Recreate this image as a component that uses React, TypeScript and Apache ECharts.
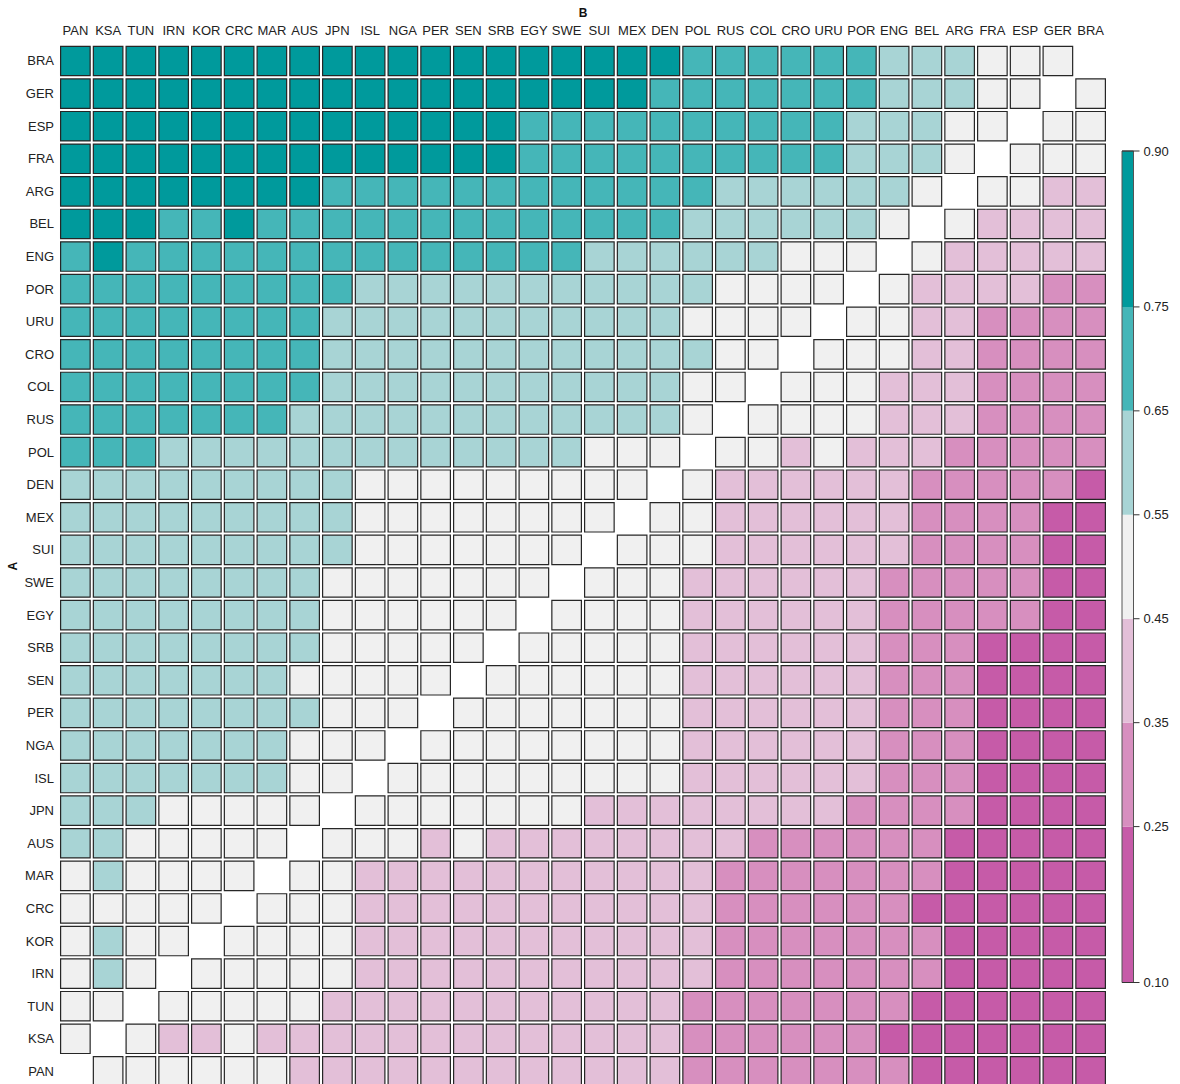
import React, { useEffect, useRef } from "react";
import * as echarts from "echarts";

// Columns (team B), left to right
const teamsB = ["PAN","KSA","TUN","IRN","KOR","CRC","MAR","AUS","JPN","ISL","NGA","PER","SEN","SRB","EGY","SWE","SUI","MEX","DEN","POL","RUS","COL","CRO","URU","POR","ENG","BEL","ARG","FRA","ESP","GER","BRA"];
// Rows (team A), top to bottom
const teamsA = ["BRA","GER","ESP","FRA","ARG","BEL","ENG","POR","URU","CRO","COL","RUS","POL","DEN","MEX","SUI","SWE","EGY","SRB","SEN","PER","NGA","ISL","JPN","AUS","MAR","CRC","KOR","IRN","TUN","KSA","PAN"];

// Estimated probability values per row (columns in teamsB order), null = same team
const rowBRA = [0.82,0.82,0.82,0.82,0.82,0.82,0.82,0.82,0.82,0.82,0.82,0.82,0.82,0.82,0.82,0.82,0.82,0.82,0.82, 0.70,0.70,0.70,0.70,0.70,0.70, 0.60,0.60,0.60, 0.50,0.50,0.50, null];
const rowGER = [0.82,0.82,0.82,0.82,0.82,0.82,0.82,0.82,0.82,0.82,0.82,0.82,0.82,0.82,0.82,0.82,0.82,0.82, 0.70,0.70,0.70,0.70,0.70,0.70,0.70, 0.60,0.60,0.60, 0.50,0.50, null, 0.50];
const rowESP = [0.82,0.82,0.82,0.82,0.82,0.82,0.82,0.82,0.82,0.82,0.82,0.82,0.82,0.82, 0.70,0.70,0.70,0.70,0.70,0.70,0.70,0.70,0.70,0.70, 0.60,0.60,0.60, 0.50,0.50, null, 0.50,0.50];
const rowFRA = [0.82,0.82,0.82,0.82,0.82,0.82,0.82,0.82,0.82,0.82,0.82,0.82,0.82,0.82, 0.70,0.70,0.70,0.70,0.70,0.70,0.70,0.70,0.70,0.70, 0.60,0.60,0.60, 0.50, null, 0.50,0.50,0.50];
const rowARG = [0.82,0.82,0.82,0.82,0.82,0.82,0.82,0.82, 0.70,0.70,0.70,0.70,0.70,0.70,0.70,0.70,0.70,0.70,0.70,0.70, 0.60,0.60,0.60,0.60,0.60,0.60, 0.50, null, 0.50,0.50, 0.40,0.40];
const rowBEL = [0.82,0.82,0.82,0.70,0.70,0.82, 0.70,0.70,0.70,0.70,0.70,0.70,0.70,0.70,0.70,0.70,0.70,0.70,0.70, 0.60,0.60,0.60,0.60,0.60,0.60, 0.50, null, 0.50, 0.40,0.40,0.40,0.40];
const rowENG = [0.70,0.82, 0.70,0.70,0.70,0.70,0.70,0.70,0.70,0.70,0.70,0.70,0.70,0.70,0.70,0.70, 0.60,0.60,0.60,0.60,0.60,0.60, 0.50,0.50,0.50, null, 0.50, 0.40,0.40,0.40,0.40,0.40];
const rowPOR = [0.70,0.70,0.70,0.70,0.70,0.70,0.70,0.70,0.70, 0.60,0.60,0.60,0.60,0.60,0.60,0.60,0.60,0.60,0.60,0.60, 0.50,0.50,0.50,0.50, null, 0.50, 0.40,0.40,0.40,0.40, 0.30,0.30];
const rowURU = [0.70,0.70,0.70,0.70,0.70,0.70,0.70,0.70, 0.60,0.60,0.60,0.60,0.60,0.60,0.60,0.60,0.60,0.60,0.60, 0.50,0.50,0.50,0.50, null, 0.50,0.50, 0.40,0.40, 0.30,0.30,0.30,0.30];
const rowCRO = [0.70,0.70,0.70,0.70,0.70,0.70,0.70,0.70, 0.60,0.60,0.60,0.60,0.60,0.60,0.60,0.60,0.60,0.60,0.60,0.60, 0.50,0.50, null, 0.50,0.50,0.50, 0.40,0.40, 0.30,0.30,0.30,0.30];
const rowCOL = [0.70,0.70,0.70,0.70,0.70,0.70,0.70,0.70, 0.60,0.60,0.60,0.60,0.60,0.60,0.60,0.60,0.60,0.60,0.60, 0.50,0.50, null, 0.50,0.50,0.50, 0.40,0.40,0.40, 0.30,0.30,0.30,0.30];
const rowRUS = [0.70,0.70,0.70,0.70,0.70,0.70,0.70, 0.60,0.60,0.60,0.60,0.60,0.60,0.60,0.60,0.60,0.60,0.60,0.60, 0.50, null, 0.50,0.50,0.50,0.50, 0.40,0.40,0.40, 0.30,0.30,0.30,0.30];
const rowPOL = [0.70,0.70,0.70, 0.60,0.60,0.60,0.60,0.60,0.60,0.60,0.60,0.60,0.60,0.60,0.60,0.60, 0.50,0.50,0.50, null, 0.50,0.50, 0.40, 0.50, 0.40,0.40,0.40, 0.30,0.30,0.30,0.30,0.30];
const rowDEN = [0.60,0.60,0.60,0.60,0.60,0.60,0.60,0.60,0.60, 0.50,0.50,0.50,0.50,0.50,0.50,0.50,0.50,0.50, null, 0.50, 0.40,0.40,0.40,0.40,0.40,0.40, 0.30,0.30,0.30,0.30,0.30, 0.18];
const rowMEX = [0.60,0.60,0.60,0.60,0.60,0.60,0.60,0.60,0.60, 0.50,0.50,0.50,0.50,0.50,0.50,0.50,0.50, null, 0.50,0.50, 0.40,0.40,0.40,0.40,0.40,0.40, 0.30,0.30,0.30,0.30, 0.18,0.18];
const rowSUI = [0.60,0.60,0.60,0.60,0.60,0.60,0.60,0.60,0.60, 0.50,0.50,0.50,0.50,0.50,0.50,0.50, null, 0.50,0.50,0.50, 0.40,0.40,0.40,0.40,0.40,0.40, 0.30,0.30,0.30,0.30, 0.18,0.18];
const rowSWE = [0.60,0.60,0.60,0.60,0.60,0.60,0.60,0.60, 0.50,0.50,0.50,0.50,0.50,0.50,0.50, null, 0.50,0.50,0.50, 0.40,0.40,0.40,0.40,0.40,0.40, 0.30,0.30,0.30,0.30,0.30, 0.18,0.18];
const rowEGY = [0.60,0.60,0.60,0.60,0.60,0.60,0.60,0.60, 0.50,0.50,0.50,0.50,0.50,0.50, null, 0.50,0.50,0.50,0.50, 0.40,0.40,0.40,0.40,0.40,0.40, 0.30,0.30,0.30,0.30,0.30, 0.18,0.18];
const rowSRB = [0.60,0.60,0.60,0.60,0.60,0.60,0.60,0.60, 0.50,0.50,0.50,0.50,0.50, null, 0.50,0.50,0.50,0.50,0.50, 0.40,0.40,0.40,0.40,0.40,0.40, 0.30,0.30,0.30, 0.18,0.18,0.18,0.18];
const rowSEN = [0.60,0.60,0.60,0.60,0.60,0.60,0.60, 0.50,0.50,0.50,0.50,0.50, null, 0.50,0.50,0.50,0.50,0.50,0.50, 0.40,0.40,0.40,0.40,0.40,0.40, 0.30,0.30,0.30, 0.18,0.18,0.18,0.18];
const rowPER = [0.60,0.60,0.60,0.60,0.60,0.60,0.60,0.60, 0.50,0.50,0.50, null, 0.50,0.50,0.50,0.50,0.50,0.50,0.50, 0.40,0.40,0.40,0.40,0.40,0.40, 0.30,0.30,0.30, 0.18,0.18,0.18,0.18];
const rowNGA = [0.60,0.60,0.60,0.60,0.60,0.60,0.60, 0.50,0.50,0.50, null, 0.50,0.50,0.50,0.50,0.50,0.50,0.50,0.50, 0.40,0.40,0.40,0.40,0.40,0.40, 0.30,0.30,0.30, 0.18,0.18,0.18,0.18];
const rowISL = [0.60,0.60,0.60,0.60,0.60,0.60,0.60, 0.50,0.50, null, 0.50,0.50,0.50,0.50,0.50,0.50,0.50,0.50,0.50, 0.40,0.40,0.40,0.40,0.40,0.40, 0.30,0.30,0.30, 0.18,0.18,0.18,0.18];
const rowJPN = [0.60,0.60,0.60, 0.50,0.50,0.50,0.50,0.50, null, 0.50,0.50,0.50,0.50,0.50,0.50,0.50, 0.40,0.40,0.40,0.40,0.40,0.40,0.40,0.40, 0.30,0.30,0.30,0.30, 0.18,0.18,0.18,0.18];
const rowAUS = [0.60,0.60, 0.50,0.50,0.50,0.50,0.50, null, 0.50,0.50,0.50, 0.40, 0.50, 0.40,0.40,0.40,0.40,0.40,0.40,0.40,0.40, 0.30,0.30,0.30,0.30,0.30,0.30, 0.18,0.18,0.18,0.18,0.18];
const rowMAR = [0.50, 0.60, 0.50,0.50,0.50,0.50, null, 0.50,0.50, 0.40,0.40,0.40,0.40,0.40,0.40,0.40,0.40,0.40,0.40,0.40, 0.30,0.30,0.30,0.30,0.30,0.30,0.30, 0.18,0.18,0.18,0.18,0.18];
const rowCRC = [0.50,0.50,0.50,0.50,0.50, null, 0.50,0.50,0.50, 0.40,0.40,0.40,0.40,0.40,0.40,0.40,0.40,0.40,0.40,0.40, 0.30,0.30,0.30,0.30,0.30,0.30, 0.18,0.18,0.18,0.18,0.18,0.18];
const rowKOR = [0.50, 0.60, 0.50,0.50, null, 0.50,0.50,0.50,0.50, 0.40,0.40,0.40,0.40,0.40,0.40,0.40,0.40,0.40,0.40,0.40, 0.30,0.30,0.30,0.30,0.30,0.30,0.30, 0.18,0.18,0.18,0.18,0.18];
const rowIRN = [0.50, 0.60, 0.50, null, 0.50,0.50,0.50,0.50,0.50, 0.40,0.40,0.40,0.40,0.40,0.40,0.40,0.40,0.40,0.40,0.40, 0.30,0.30,0.30,0.30,0.30,0.30,0.30, 0.18,0.18,0.18,0.18,0.18];
const rowTUN = [0.50,0.50, null, 0.50,0.50,0.50,0.50,0.50, 0.40,0.40,0.40,0.40,0.40,0.40,0.40,0.40,0.40,0.40,0.40, 0.30,0.30,0.30,0.30,0.30,0.30,0.30, 0.18,0.18,0.18,0.18,0.18,0.18];
const rowKSA = [0.50, null, 0.50, 0.40,0.40, 0.50, 0.40,0.40,0.40,0.40,0.40,0.40,0.40,0.40,0.40,0.40,0.40,0.40,0.40, 0.30,0.30,0.30,0.30,0.30,0.30, 0.18,0.18,0.18,0.18,0.18,0.18,0.18];
const rowPAN = [null, 0.50,0.50,0.50,0.50,0.50,0.50, 0.40,0.40,0.40,0.40,0.40,0.40,0.40,0.40,0.40,0.40,0.40,0.40, 0.30,0.30,0.30,0.30,0.30,0.30,0.30, 0.18,0.18,0.18,0.18,0.18,0.18];

const rows = [rowBRA,rowGER,rowESP,rowFRA,rowARG,rowBEL,rowENG,rowPOR,rowURU,rowCRO,rowCOL,rowRUS,rowPOL,rowDEN,rowMEX,rowSUI,rowSWE,rowEGY,rowSRB,rowSEN,rowPER,rowNGA,rowISL,rowJPN,rowAUS,rowMAR,rowCRC,rowKOR,rowIRN,rowTUN,rowKSA,rowPAN];

// Colour scale breaks and bin colours
const breaks = [0.10, 0.25, 0.35, 0.45, 0.55, 0.65, 0.75, 0.90];
const breakLabels = ["0.10", "0.25", "0.35", "0.45", "0.55", "0.65", "0.75", "0.90"];
const binColors = ["#c65ba8", "#d78fbf", "#e3bfd8", "#f0f0f0", "#a8d4d5", "#45b6b8", "#009a9c"];

const FONT = '"Liberation Sans", Arial, Helvetica, sans-serif';

function buildOption() {
  const data: any[] = [];
  rows.forEach((row, i) => {
    row.forEach((v, j) => {
      if (v !== null) data.push([j, i, v]);
    });
  });

  const pieces = binColors.map((c, k) => ({ min: breaks[k], max: breaks[k + 1], color: c }));

  // colour-bar legend
  const barX = 1122;
  const barW = 11.5;
  const yTop = 151;
  const yBottom = 982.5;
  const vMin = breaks[0];
  const vMax = breaks[breaks.length - 1];
  const yOf = (v: number) => yBottom - ((v - vMin) / (vMax - vMin)) * (yBottom - yTop);
  const graphics: any[] = [];
  binColors.forEach((c, k) => {
    const y1 = yOf(breaks[k + 1]);
    const y2 = yOf(breaks[k]);
    graphics.push({ type: "rect", shape: { x: barX, y: y1, width: barW, height: y2 - y1 }, style: { fill: c }, silent: true });
  });
  graphics.push({ type: "rect", shape: { x: barX, y: yTop, width: barW, height: yBottom - yTop }, style: { fill: "none", stroke: "#555", lineWidth: 1 }, silent: true });
  breaks.forEach((b, k) => {
    const y = yOf(b);
    const isEnd = k === 0 || k === breaks.length - 1;
    graphics.push({ type: "line", shape: { x1: isEnd ? barX : barX + barW, y1: y, x2: barX + barW + 6, y2: y }, style: { stroke: "#333", lineWidth: 1 }, silent: true });
    graphics.push({ type: "text", x: barX + barW + 10, y, style: { text: breakLabels[k], fill: "#222", fontSize: 13, fontFamily: FONT, verticalAlign: "middle", align: "left" }, silent: true });
  });

  return {
    animation: false,
    backgroundColor: "#fff",
    grid: { left: 59, top: 44.7, width: 1048, height: 1043, containLabel: false, outerBoundsMode: "none" },
    xAxis: {
      type: "category",
      position: "top",
      data: teamsB,
      name: "B",
      nameLocation: "middle",
      nameGap: 26,
      nameTextStyle: { fontWeight: "bold", fontSize: 12, color: "#111", fontFamily: FONT },
      axisLine: { show: false },
      axisTick: { show: false },
      splitLine: { show: false },
      axisLabel: { interval: 0, margin: 8, fontSize: 13, color: "#222", fontFamily: FONT },
    },
    yAxis: {
      type: "category",
      inverse: true,
      data: teamsA,
      name: "A",
      nameLocation: "middle",
      nameGap: 40,
      nameRotate: 90,
      nameMoveOverlap: false,
      nameTextStyle: { fontWeight: "bold", fontSize: 12, color: "#111", fontFamily: FONT },
      axisLine: { show: false },
      axisTick: { show: false },
      splitLine: { show: false },
      axisLabel: { interval: 0, margin: 5, fontSize: 13, color: "#222", fontFamily: FONT },
    },
    visualMap: {
      type: "piecewise",
      show: false,
      dimension: 2,
      seriesIndex: 0,
      pieces,
    },
    series: [
      {
        type: "custom",
        coordinateSystem: "cartesian2d",
        encode: { x: 0, y: 1 },
        data,
        renderItem: (params: any, api: any) => {
          const c = api.coord([api.value(0), api.value(1)]);
          const s = api.size([1, 1]);
          const w = s[0] - 3.2;
          const h = s[1] - 3.2;
          return {
            type: "rect",
            shape: { x: c[0] - w / 2, y: c[1] - h / 2, width: w, height: h },
            style: { fill: api.visual("color"), stroke: "#262626", lineWidth: 1.2 },
          };
        },
      },
    ],
    graphic: { elements: graphics },
  };
}

export default function App() {
  const ref = useRef<HTMLDivElement>(null);
  useEffect(() => {
    if (!ref.current) return;
    const chart = echarts.init(ref.current, undefined, { renderer: "svg" });
    chart.setOption(buildOption() as any);
    return () => chart.dispose();
  }, []);
  return (
    <div
      ref={ref}
      style={{ position: "fixed", left: 0, top: 0, width: 1180, height: 1100, background: "#fff" }}
    />
  );
}
